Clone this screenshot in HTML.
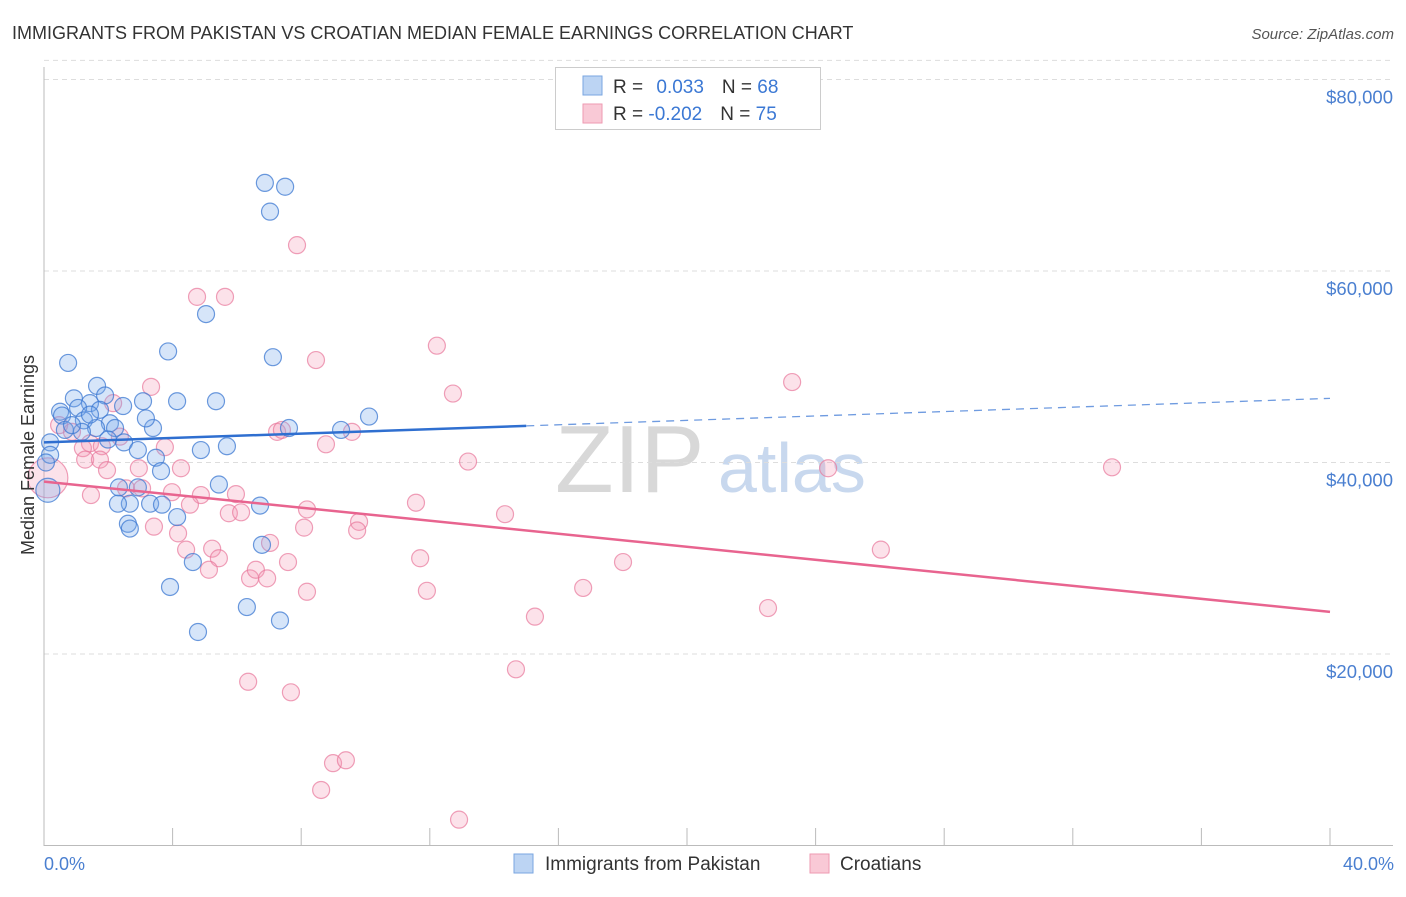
<!DOCTYPE html>
<html><head><meta charset="utf-8">
<style>
body{margin:0;background:#fff;font-family:"Liberation Sans",sans-serif;}
svg text{font-family:"Liberation Sans",sans-serif;}
</style></head>
<body>
<svg width="1406" height="892" viewBox="0 0 1406 892">
<text x="12" y="39" font-size="18" fill="#333">IMMIGRANTS FROM PAKISTAN VS CROATIAN MEDIAN FEMALE EARNINGS CORRELATION CHART</text>
<text x="1394" y="39" font-size="15" fill="#555" font-style="italic" text-anchor="end">Source: ZipAtlas.com</text>
<g>
<text x="555" y="492" font-size="96" fill="#d8d8d8" font-family="Liberation Serif">ZIP</text>
<text x="718" y="492" font-size="70" fill="#c8d8ee">atlas</text>
</g>
<g id="grid"></g>
<g id="axes"></g>
<g id="pts"></g>
<g id="trend"></g>
<text transform="translate(34,455) rotate(-90)" font-size="18" fill="#333" text-anchor="middle">Median Female Earnings</text>
<text x="44" y="870" font-size="18" fill="#4a7fd0">0.0%</text>
<text x="1394" y="870" font-size="18" fill="#4a7fd0" text-anchor="end">40.0%</text>
<g>
<rect x="555.5" y="67.5" width="265" height="62" fill="#fff" stroke="#ccc"/>
<rect x="583" y="76" width="19" height="19" fill="#bcd4f3" stroke="#7aa6e0"/>
<rect x="583" y="104" width="19" height="19" fill="#f9c9d6" stroke="#ee9ab2"/>
<text x="613" y="93" font-size="19" fill="#333">R = <tspan fill="#3b78d4" dx="8">0.033</tspan><tspan fill="#333" dx="18">N = </tspan><tspan fill="#3b78d4">68</tspan></text>
<text x="613" y="120" font-size="19" fill="#333">R = <tspan fill="#3b78d4" dx="0">-0.202</tspan><tspan fill="#333" dx="18">N = </tspan><tspan fill="#3b78d4">75</tspan></text>
</g>
<g>
<rect x="514" y="854" width="19" height="19" fill="#bcd4f3" stroke="#7aa6e0"/>
<text x="545" y="870" font-size="19" fill="#333">Immigrants from Pakistan</text>
<rect x="810" y="854" width="19" height="19" fill="#f9c9d6" stroke="#ee9ab2"/>
<text x="840" y="870" font-size="19" fill="#333">Croatians</text>
</g>
</svg>
<script>
const yTicks=[20000,40000,60000,80000];
const yTickLabels=["$20,000","$40,000","$60,000","$80,000"];
const xTicks=[0,4,8,12,16,20,24,28,32,36,40];
const blueX=[0.75,1.65,0.93,0.50,1.43,1.90,2.46,1.06,1.74,1.24,0.56,2.05,1.62,2.21,1.18,0.65,2.49,0.19,0.19,2.92,3.39,3.17,3.08,3.86,4.14,5.35,5.04,6.87,7.50,7.03,7.12,7.62,10.11,9.24,4.88,5.69,3.48,3.64,2.33,2.92,2.67,2.30,3.30,3.67,4.14,2.61,2.67,5.44,6.72,6.78,4.63,3.92,6.31,7.34,4.79,0.12,0.06,1.99,1.43,0.87];
const blueY=[50.4,48.0,46.7,45.3,46.2,47.0,45.9,45.7,45.5,44.4,44.9,44.1,43.6,43.6,43.2,43.4,42.1,42.1,40.8,41.3,43.6,44.6,46.4,51.6,46.4,46.4,55.5,69.2,68.8,66.2,51.0,43.6,44.8,43.4,41.3,41.7,40.5,39.1,37.4,37.4,35.7,35.7,35.7,35.6,34.3,33.6,33.1,37.7,35.5,31.4,29.6,27.0,24.9,23.5,22.3,37.1,40.0,42.4,45.0,43.9];
const pinkX=[7.87,4.76,5.63,12.22,8.46,12.72,23.27,3.33,2.15,0.47,0.87,1.43,1.21,1.80,2.36,3.76,1.28,1.74,1.96,2.95,4.26,13.19,24.39,33.22,7.25,7.40,9.58,8.77,1.46,2.55,3.05,3.98,4.88,5.97,4.54,5.75,6.13,8.18,9.80,11.57,14.34,3.42,4.17,8.09,9.74,4.42,5.23,5.44,7.03,11.70,18.01,26.03,5.13,6.41,6.59,6.94,7.59,8.18,11.91,16.77,22.52,15.27,14.68,6.35,7.68,8.99,9.39,8.62,12.91,0.12];
const pinkY=[62.7,57.3,57.3,52.2,50.7,47.2,48.4,47.9,46.2,43.9,43.2,42.0,41.5,41.7,42.7,41.6,40.3,40.3,39.2,39.4,39.4,40.1,39.4,39.5,43.2,43.4,43.2,41.9,36.6,37.3,37.3,36.9,36.6,36.7,35.6,34.7,34.8,35.1,33.8,35.8,34.6,33.3,32.6,33.2,32.9,30.9,31.0,30.0,31.6,30.0,29.6,30.9,28.8,27.9,28.8,27.9,29.6,26.5,26.6,26.9,24.8,23.9,18.4,17.1,16.0,8.6,8.9,5.8,2.7,38.4];
const blueTrend=[42.1,46.7];
const pinkTrend=[38.0,24.4];
const blueSolidEnd=15.0;

const NS="http://www.w3.org/2000/svg";
const X=p=>44+p*(1286/40);
const Y=v=>845.5-v*(191.5/20000);
function mk(parent,tag,attrs){const e=document.createElementNS(NS,tag);for(const k in attrs)e.setAttribute(k,attrs[k]);document.getElementById(parent).appendChild(e);return e;}

yTicks.forEach((t,i)=>{
  const g=mk('grid','line',{x1:44,x2:1393,y1:Y(t),y2:Y(t),stroke:'#ddd','stroke-dasharray':'5,4'});
  
  
  const l=mk('grid','text',{x:1393,y:Y(t)+24,'font-size':18.5,fill:'#4a7fd0','text-anchor':'end'});
  l.textContent=yTickLabels[i];
  
  
});
const topGrid=mk('grid','line',{x1:44,x2:1393,y1:Y(82000),y2:Y(82000),stroke:'#ddd','stroke-dasharray':'5,4'});


const ya=mk('axes','line',{x1:44,x2:44,y1:67,y2:846,stroke:'#bbb'});


const xa=mk('axes','line',{x1:44,x2:1393,y1:845.5,y2:845.5,stroke:'#bbb'});


xTicks.forEach(t=>{
  const k=mk('axes','line',{x1:X(t),x2:X(t),y1:828,y2:846,stroke:'#bbb'});
  
  
});
pinkX.forEach((x,i)=>{
  const big=(i===pinkX.length-1);
  const c=mk('pts','circle',{cx:X(x),cy:Y(pinkY[i]*1000),r:big?20:8.5,fill:'rgba(244,150,180,0.28)',stroke:'rgba(232,120,155,0.7)','stroke-width':1.2});
  
  
});
blueX.forEach((x,i)=>{
  const big=(i===55);
  const c=mk('pts','circle',{cx:X(x),cy:Y(blueY[i]*1000),r:big?12:8.5,fill:'rgba(120,170,235,0.3)',stroke:'rgba(60,120,210,0.75)','stroke-width':1.2});
  
  
});
const bAt=p=>blueTrend[0]+(blueTrend[1]-blueTrend[0])*p/40;
const b1=mk('trend','line',{x1:X(0),y1:Y(bAt(0)*1000),x2:X(blueSolidEnd),y2:Y(bAt(blueSolidEnd)*1000),stroke:'#2f6fd0','stroke-width':2.5});


const b2=mk('trend','line',{x1:X(blueSolidEnd),y1:Y(bAt(blueSolidEnd)*1000),x2:X(40),y2:Y(bAt(40)*1000),stroke:'#6f9be0','stroke-width':1.3,'stroke-dasharray':'8,6'});


const p1=mk('trend','line',{x1:X(0),y1:Y(pinkTrend[0]*1000),x2:X(40),y2:Y(pinkTrend[1]*1000),stroke:'#e8648f','stroke-width':2.5});


</script>
</body></html>
